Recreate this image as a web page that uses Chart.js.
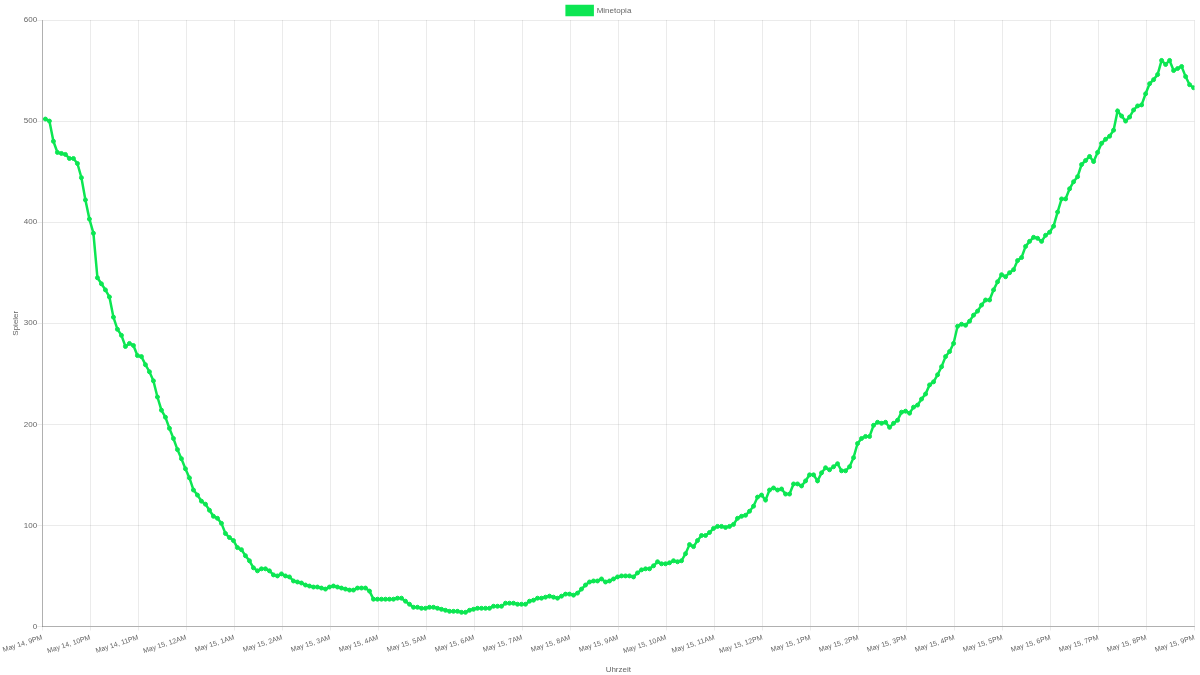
<!DOCTYPE html>
<html>
<head>
<meta charset="utf-8">
<title>Minetopia Spieler</title>
<script src="https://cdn.jsdelivr.net/npm/chart.js@4/dist/chart.umd.min.js"></script>
<style>
    html, body { margin: 0; padding: 0; background: #fff; }
    #wrap { width: 1200px; height: 675px; }
</style>
</head>
<body>
<div id="wrap"><canvas id="playerChart"></canvas></div>
<script>
// Beschriftungen der x-Achse (eine pro Stunde)
const tickLabels = [
    'May 14, 9PM', 'May 14, 10PM', 'May 14, 11PM', 'May 15, 12AM', 'May 15, 1AM',
    'May 15, 2AM', 'May 15, 3AM', 'May 15, 4AM', 'May 15, 5AM', 'May 15, 6AM',
    'May 15, 7AM', 'May 15, 8AM', 'May 15, 9AM', 'May 15, 10AM', 'May 15, 11AM',
    'May 15, 12PM', 'May 15, 1PM', 'May 15, 2PM', 'May 15, 3PM', 'May 15, 4PM',
    'May 15, 5PM', 'May 15, 6PM', 'May 15, 7PM', 'May 15, 8PM', 'May 15, 9PM'
];

// Messung alle 5 Minuten, erste um 21:04
const firstMinute = 4;
const stepMinutes = 5;

// Spieler online (Minetopia)
const players = [
    502, 500, 480, 469, 468, 467, 463, 463, 458, 444,
    422, 403, 389, 345, 339, 333, 326, 306, 294, 288,
    277, 280, 278, 268, 267, 259, 252, 243, 227, 214,
    207, 196, 186, 175, 166, 156, 147, 135, 130, 124,
    121, 115, 109, 107, 102, 92, 88, 85, 78, 76,
    70, 65, 58, 55, 57, 57, 55, 51, 50, 52,
    50, 49, 45, 44, 43, 41, 40, 39, 39, 38,
    37, 39, 40, 39, 38, 37, 36, 36, 38, 38,
    38, 35, 27, 27, 27, 27, 27, 27, 28, 28,
    25, 22, 19, 19, 18, 18, 19, 19, 18, 17,
    16, 15, 15, 15, 14, 14, 16, 17, 18, 18,
    18, 18, 20, 20, 20, 23, 23, 23, 22, 22,
    22, 25, 26, 28, 28, 29, 30, 29, 28, 30,
    32, 32, 31, 33, 37, 41, 44, 45, 45, 47,
    44, 45, 47, 49, 50, 50, 50, 49, 53, 56,
    57, 57, 60, 64, 62, 62, 63, 65, 64, 65,
    72, 81, 79, 85, 90, 90, 93, 97, 99, 99,
    98, 99, 101, 107, 109, 110, 114, 119, 128, 130,
    125, 135, 137, 135, 136, 131, 131, 141, 141, 139,
    144, 150, 150, 144, 152, 157, 155, 158, 161, 154,
    154, 158, 167, 181, 186, 188, 188, 199, 202, 201,
    202, 197, 201, 204, 212, 213, 211, 217, 219, 225,
    230, 239, 242, 249, 257, 267, 272, 280, 297, 299,
    298, 302, 308, 312, 318, 323, 323, 333, 341, 348,
    346, 350, 353, 362, 365, 376, 381, 385, 384, 381,
    387, 390, 396, 410, 423, 423, 433, 440, 445, 457,
    461, 465, 460, 469, 478, 482, 485, 491, 510, 505,
    500, 504, 511, 515, 516, 527, 537, 541, 546, 560,
    556, 560, 550, 552, 554, 544, 536, 533
];

const yTicks = [0, 100, 200, 300, 400, 500, 600];

const green = 'rgb(12, 230, 82)';
const points = players.map((v, i) => ({ x: firstMinute + i * stepMinutes, y: v }));

// Legende etwas kompakter machen, damit der Plot näher am oberen Rand beginnt
const tightLegend = {
    id: 'tightLegend',
    afterInit(chart) {
        const fit = chart.legend.fit;
        chart.legend.fit = function() {
            fit.call(this);
            this.height -= 5;
        };
    }
};

const config = {
    type: 'line',
    data: {
        datasets: [{
            label: 'Minetopia',
            data: points,
            borderColor: green,
            backgroundColor: green,
            borderWidth: 2.5,
            pointRadius: 2,
            pointBorderWidth: 1,
            pointBackgroundColor: green,
            pointBorderColor: green,
            fill: false,
            tension: 0
        }]
    },
    options: {
        responsive: true,
        maintainAspectRatio: false,
        animation: false,
        layout: { padding: { top: 0, right: 4, bottom: 0, left: 2 } },
        plugins: {
            legend: {
                labels: {
                    boxWidth: 26,
                    boxHeight: 9,
                    padding: 6,
                    color: '#666',
                    font: { size: 8 }
                }
            },
            tooltip: { enabled: false }
        },
        scales: {
            x: {
                type: 'linear',
                min: 0,
                max: (tickLabels.length - 1) * 60,
                title: { display: true, text: 'Uhrzeit', color: '#666', font: { size: 8 }, padding: { top: 7, bottom: 0 } },
                grid: { color: 'rgba(0,0,0,0.08)', tickLength: 4 },
                border: { color: 'rgba(0,0,0,0.25)' },
                ticks: {
                    stepSize: 60,
                    autoSkip: false,
                    minRotation: 18,
                    maxRotation: 18,
                    padding: 3,
                    color: '#666',
                    font: { size: 7 },
                    callback: (value) => tickLabels[Math.round(value / 60)]
                }
            },
            y: {
                min: yTicks[0],
                max: yTicks[yTicks.length - 1],
                title: { display: true, text: 'Spieler', color: '#666', font: { size: 8 }, padding: { top: 0, bottom: 3 } },
                grid: { color: 'rgba(0,0,0,0.08)', tickLength: 5 },
                border: { color: 'rgba(0,0,0,0.25)' },
                ticks: {
                    stepSize: 100,
                    padding: 0,
                    color: '#666',
                    font: { size: 8 }
                }
            }
        }
    },
    plugins: [tightLegend]
};

window.onload = function() {
    const ctx = document.getElementById('playerChart').getContext('2d');
    new Chart(ctx, config);
};
</script>
</body>
</html>
